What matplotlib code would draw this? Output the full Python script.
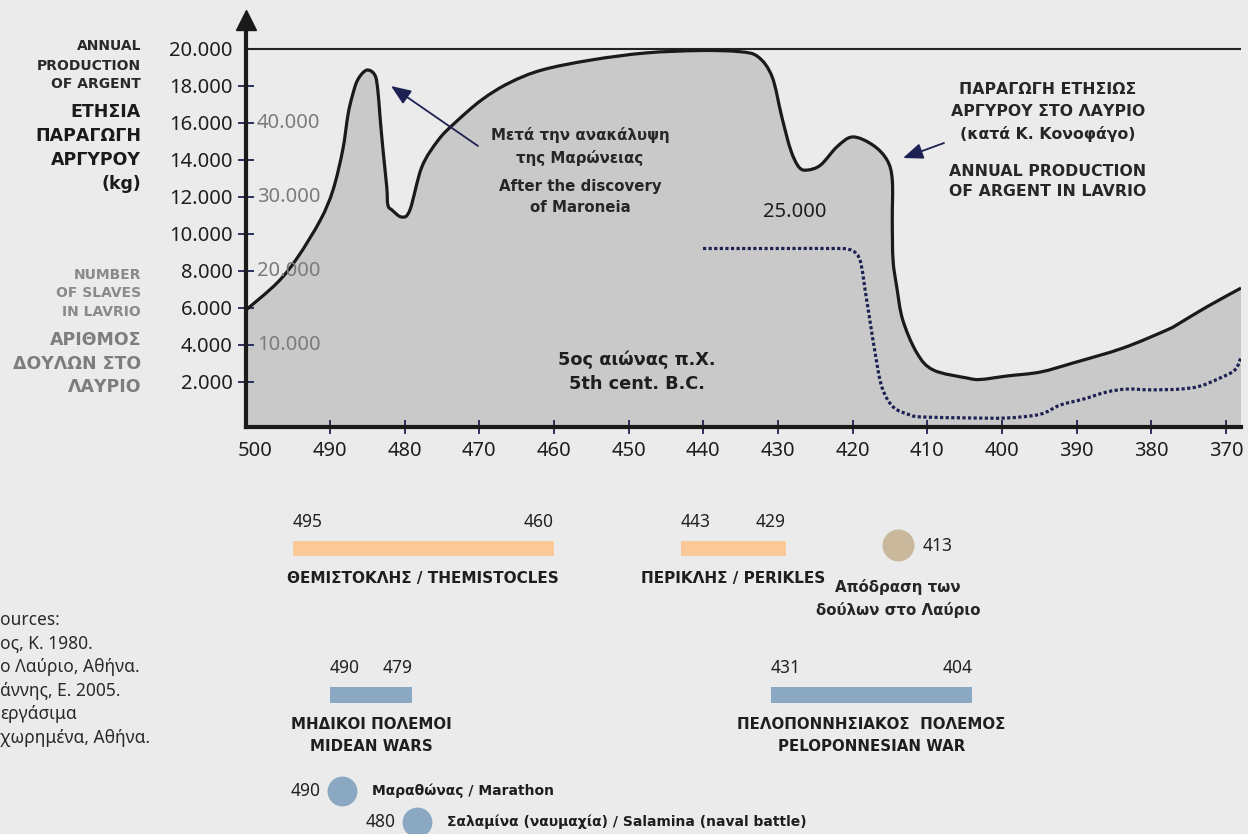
import matplotlib
matplotlib.use("Agg")
import matplotlib.pyplot as plt
import matplotlib.transforms as mtransforms
from matplotlib.path import Path
from matplotlib.patches import PathPatch
from matplotlib.ticker import FuncFormatter

# ------------------------------------------------------------------ data
# Annual silver production in Lavrio (kg), years B.C.
prod_years = [501.25, 497.1, 494.4, 491.3, 489.6, 488.3, 487.6, 487.05, 486.3, 485.1,
              484.0, 483.6, 483.3, 482.9, 482.4, 482.25, 481.7, 480.4, 479.3, 477.7,
              475.5, 473.3, 469.7, 466.0, 461.6, 455.0, 447.7, 440.4, 435.2, 432.7,
              430.8, 429.5, 428.3, 427.2, 426.1, 424.3, 422.1, 420.0, 417.3, 415.4,
              414.7, 414.7, 414.6, 414.1, 413.3, 411.4, 409.2, 404.7, 402.9, 399.3,
              394.9, 390.5, 383.8, 377.9, 376.2, 372.6, 368.0]
prod_kg = [5875, 7335, 8686, 10730, 12360, 14520, 16410, 17390, 18310, 18840,
           18580, 17770, 16310, 14520, 12520, 11550, 11280, 10900, 11280, 13610,
           15060, 15980, 17230, 18150, 18850, 19390, 19770, 19900, 19840, 19570,
           18490, 16320, 14520, 13600, 13440, 13710, 14700, 15230, 14790, 13980,
           12900, 10730, 8580, 7120, 5340, 3550, 2630, 2200, 2120, 2310,
           2520, 3010, 3820, 4800, 5170, 6040, 7060]

# Number of slaves in Lavrio
slave_years = [440.05, 430.0, 422.5, 420.6, 419.5, 418.9, 418.4, 417.7, 417.0, 416.1,
               414.6, 412.3, 410.6, 403.9, 399.3, 394.9, 392.2, 389.1, 386.0, 383.3,
               380.2, 376.2, 373.5, 370.8, 368.8, 368.0]
slaves = [23000, 23000, 23000, 22900, 22300, 21000, 17800, 13300, 8900, 4300,
          1600, 500, 230, 100, 100, 600, 1850, 2650, 3600, 4000,
          3900, 4000, 4400, 5500, 6600, 8300]
SLAVE_TO_KG = 0.4          # 10.000 slaves share the height of 4.000 kg

x_ticks = [500, 490, 480, 470, 460, 450, 440, 430, 420, 410, 400, 390, 380, 370]
kg_ticks = [2000, 4000, 6000, 8000, 10000, 12000, 14000, 16000, 18000, 20000]
slave_ticks = [10000, 20000, 30000, 40000]

# Timeline periods
period_names = ["ΘΕΜΙΣΤΟΚΛΗΣ / THEMISTOCLES", "ΠΕΡΙΚΛΗΣ / PERIKLES",
                "ΜΗΔΙΚΟΙ ΠΟΛΕΜΟΙ\nMIDEAN WARS", "ΠΕΛΟΠΟΝΝΗΣΙΑΚΟΣ  ΠΟΛΕΜΟΣ\nPELOPONNESIAN WAR"]
period_start = [495, 443, 490, 431]
period_end = [460, 429, 479, 404]

# Timeline events
event_names = ["Μαραθώνας / Marathon", "Σαλαμίνα (ναυμαχία) / Salamina (naval battle)"]
event_years = [490, 480]
escape_year = 413
escape_label = "Απόδραση των\nδούλων στο Λαύριο"

sources = ["ources:", "ος, Κ. 1980.", "ο Λαύριο, Αθήνα.", "άννης, Ε. 2005.",
           "εργάσιμα", "χωρημένα, Αθήνα."]

# ------------------------------------------------------------------ layout
W, H = 1248, 834
BG = "#ebebeb"
NAVY = "#1e2253"
BOLD = dict(family=["DejaVu Sans"], fontweight="bold")
NUM = dict(family=["Noto Sans", "DejaVu Sans"])
plt.rcParams["font.family"] = ["DejaVu Sans"]

fig = plt.figure(figsize=(W / 100, H / 100), dpi=100, facecolor=BG)


def fx(px):
    return px / W


def fy(py):
    return 1 - py / H


def smooth_path(xs, ys, close_to=None):
    """Catmull-Rom curve through the given points, as cubic Bezier path."""
    pts = list(zip(xs, ys))
    n = len(pts)
    verts = [pts[0]]
    codes = [Path.MOVETO]
    for i in range(n - 1):
        p0 = pts[i - 1] if i > 0 else pts[i]
        p1, p2 = pts[i], pts[i + 1]
        p3 = pts[i + 2] if i + 2 < n else pts[i + 1]
        c1 = (p1[0] + (p2[0] - p0[0]) / 6, p1[1] + (p2[1] - p0[1]) / 6)
        c2 = (p2[0] - (p3[0] - p1[0]) / 6, p2[1] - (p3[1] - p1[1]) / 6)
        verts += [c1, c2, p2]
        codes += [Path.CURVE4] * 3
    if close_to is not None:
        verts += [(xs[-1], close_to), (xs[0], close_to), pts[0]]
        codes += [Path.LINETO, Path.LINETO, Path.CLOSEPOLY]
    return Path(verts, codes)


ax = fig.add_axes([fx(246), fy(427), fx(1241) - fx(246), fy(20) - fy(427)])
ax.set_facecolor("none")
ax.set_xlim(501.25, 368.0)
ax.set_ylim(-449, 21551)

# production area + outline
ax.add_patch(PathPatch(smooth_path(prod_years, prod_kg, close_to=-2000),
                       facecolor="#c9c9c9", edgecolor="none", zorder=1))
ax.add_patch(PathPatch(smooth_path(prod_years, prod_kg), facecolor="none",
                       edgecolor="#1a1a1a", lw=2.3, joinstyle="round", zorder=3))
# slaves dotted
ax.add_patch(PathPatch(smooth_path(slave_years, [s * SLAVE_TO_KG for s in slaves]),
                       facecolor="none", edgecolor=NAVY, lw=2.3,
                       linestyle=(0, (1, 0.75)), zorder=3))
# 20.000 top line
ax.axhline(20000, color="#222222", lw=1.5, zorder=2)

for s in ["top", "right"]:
    ax.spines[s].set_visible(False)
for s in ["left", "bottom"]:
    ax.spines[s].set_linewidth(3.0)
    ax.spines[s].set_color("#1a1a1a")
    ax.spines[s].set_zorder(4)

ax.set_yticks(kg_ticks)
ax.yaxis.set_major_formatter(FuncFormatter(lambda v, p: f"{int(v):,}".replace(",", ".")))
ax.set_xticks(x_ticks)
ax.set_xticklabels([str(t) for t in x_ticks])
ax.tick_params(axis="y", direction="inout", length=11, width=1.3, color=NAVY,
               labelsize=14.5, labelcolor="#1e1e1e", pad=4)
ax.tick_params(axis="x", direction="inout", length=9.5, width=1.3, color=NAVY,
               labelsize=14.5, labelcolor="#1e1e1e", pad=5.5)
for lab in ax.get_xticklabels() + ax.get_yticklabels():
    lab.set_family(["Noto Sans", "DejaVu Sans"])
ax.xaxis.get_major_ticks()[0].tick1line.set_visible(False)
ax.yaxis.get_major_ticks()[-1].tick1line.set_visible(False)

# axis arrow
ax.plot([0], [1], marker="^", ms=15, color="#1a1a1a", transform=ax.transAxes,
        clip_on=False, zorder=5)

# secondary (slaves) labels
blend = mtransforms.blended_transform_factory(fig.transFigure, ax.transData)
for s in slave_ticks:
    ax.text(fx(257), s * SLAVE_TO_KG, f"{s:,}".replace(",", "."), transform=blend,
            ha="left", va="center", fontsize=14.5, color="#7b7b7b", zorder=6, **NUM)


# left axis titles
def ltext(py, s, size, color):
    fig.text(fx(141), fy(py), s, ha="right", va="center", fontsize=size,
             color=color, **BOLD)


for py, s in zip([46, 66, 84], ["ANNUAL", "PRODUCTION", "OF ARGENT"]):
    ltext(py, s, 10, "#2a2a2a")
for py, s in zip([112, 136, 160, 184], ["ΕΤΗΣΙΑ", "ΠΑΡΑΓΩΓΗ", "ΑΡΓΥΡΟΥ", "(kg)"]):
    ltext(py, s, 12.5, "#1a1a1a")
for py, s in zip([275, 293, 312], ["NUMBER", "OF SLAVES", "IN LAVRIO"]):
    ltext(py, s, 10, "#8a8a8a")
for py, s in zip([340, 364, 387], ["ΑΡΙΘΜΟΣ", "ΔΟΥΛΩΝ ΣΤΟ", "ΛΑΥΡΙΟ"]):
    ltext(py, s, 12.5, "#7d7d7d")


def ctext(px, py, s, size, color="#262626"):
    fig.text(fx(px), fy(py), s, ha="center", va="center", fontsize=size,
             color=color, zorder=7, **BOLD)


for py, s in zip([135, 158, 186, 207],
                 ["Μετά την ανακάλυψη", "της Μαρώνειας", "After the discovery", "of Maroneia"]):
    ctext(580, py, s, 10.8)
for py, s in zip([90, 112, 134, 171, 192],
                 ["ΠΑΡΑΓΩΓΗ ΕΤΗΣΙΩΣ", "ΑΡΓΥΡΟΥ ΣΤΟ ΛΑΥΡΙΟ", "(κατά Κ. Κονοφάγο)",
                  "ANNUAL PRODUCTION", "OF ARGENT IN LAVRIO"]):
    ctext(1048, py, s, 11.3)
ctext(637, 360, "5ος αιώνας π.Χ.", 12.8, color="#1e1e1e")
ctext(637, 384, "5th cent. B.C.", 12.8, color="#1e1e1e")
fig.text(fx(795), fy(212), "25.000", ha="center", va="center", fontsize=14.5,
         color="#1e1e1e", **NUM)

arrow_kw = dict(arrowstyle="-|>,head_length=0.55,head_width=0.22", color=NAVY, lw=1.3,
                mutation_scale=22, shrinkA=0, shrinkB=0)
ax.annotate("", xy=(391, H - 86), xytext=(478, H - 146), xycoords="figure pixels",
            textcoords="figure pixels", arrowprops=arrow_kw, zorder=8)
ax.annotate("", xy=(903, H - 158), xytext=(944, H - 143), xycoords="figure pixels",
            textcoords="figure pixels", arrowprops=arrow_kw, zorder=8)

# ------------------------------------------------------------------ timeline
tl = fig.add_axes([fx(246), 0, fx(1241) - fx(246), 1 - 470 / H])
tl.set_xlim(ax.get_xlim())
tl.set_ylim(H, 470)
tl.axis("off")
tl.patch.set_visible(False)

period_rows = [549, 549, 695, 695]
period_colors = ["#fbc898", "#fbc898", "#8aa8c1", "#8aa8c1"]
period_heights = [15, 15, 16, 16]
name_sizes = [11, 11, 10.8, 10.8]
for name, a, b, row, c, h, ns in zip(period_names, period_start, period_end,
                                     period_rows, period_colors, period_heights,
                                     name_sizes):
    tl.barh(row, b - a, left=a, height=h, color=c, lw=0)
    tl.text(a, row - 27, str(a), ha="left", va="center", fontsize=12.5, color="#222222",
            **NUM)
    tl.text(b, row - 27, str(b), ha="right", va="center", fontsize=12.5, color="#222222",
            **NUM)
    tl.text((a + b) / 2, row + 22, name, ha="center", va="top", fontsize=ns,
            color="#1e1e1e", linespacing=1.55, **BOLD)

# slave escape
esc_off = mtransforms.ScaledTranslation(-7 / 100, 0, fig.dpi_scale_trans)
tl.plot([escape_year], [545], "o", ms=23, color="#c9b89b", mec="none", clip_on=False,
        transform=tl.transData + esc_off)
tl.text(escape_year - 2.4, 546, str(escape_year), ha="left", va="center", fontsize=12.5,
        color="#222222", **NUM)
tl.text(escape_year, 579, escape_label, ha="center", va="top", fontsize=10.8,
        color="#262626", linespacing=1.55, transform=tl.transData + esc_off, **BOLD)

# battles
off = mtransforms.ScaledTranslation(12 / 100, 0, fig.dpi_scale_trans)
o1 = mtransforms.ScaledTranslation(-9 / 100, 0, fig.dpi_scale_trans)
o2 = mtransforms.ScaledTranslation(42 / 100, 0, fig.dpi_scale_trans)
for yr, name, row in zip(event_years, event_names, [791, 822]):
    tl.plot([yr], [row], "o", ms=21.5, color="#8aa8c1", mec="none",
            transform=tl.transData + off, clip_on=False)
    tl.text(yr, row, str(yr), ha="right", va="center", fontsize=12.5, color="#222222",
            transform=tl.transData + o1, **NUM)
    tl.text(yr, row, name, ha="left", va="center", fontsize=10,
            color="#1e1e1e", transform=tl.transData + o2, **BOLD)

# sources (cut at the left edge in the original layout)
for i, s in enumerate(sources):
    fig.text(fx(0), fy(620 + 23.6 * i), s, ha="left", va="center",
             fontsize=12.5, color="#2a2a2a", **NUM)

fig.savefig("out.png", dpi=100, facecolor=BG)
